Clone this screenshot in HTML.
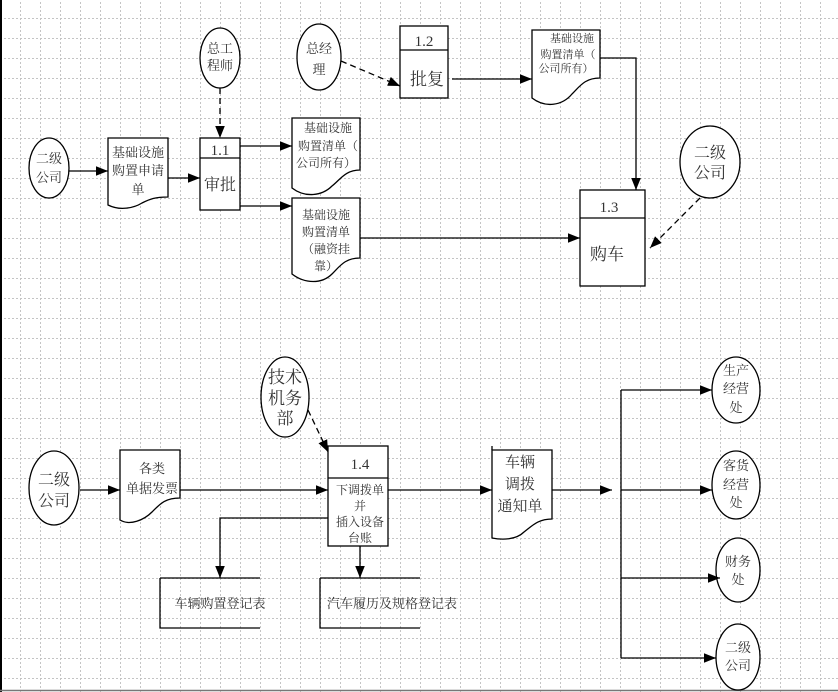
<!DOCTYPE html>
<html><head><meta charset="utf-8"><style>
html,body{margin:0;padding:0;background:#fff;}
svg{display:block;font-family:"Liberation Serif","Noto Serif CJK SC","Noto Sans CJK SC",serif;}
text{fill:#333;}
</style></head><body>
<svg width="838" height="692" viewBox="0 0 838 692" xmlns="http://www.w3.org/2000/svg">
<defs>
<pattern id="g" width="20" height="20" patternUnits="userSpaceOnUse" x="0" y="18">
<path d="M0 0.5H20M0.5 0V20" stroke="#c4c4c4" stroke-width="1" stroke-dasharray="2,2" fill="none"/>
</pattern>
<marker id="b" viewBox="0 0 10 10" refX="10" refY="5" markerWidth="12" markerHeight="12" markerUnits="userSpaceOnUse" orient="auto"><path d="M0 1L10 5L0 9z" fill="#000"/></marker>
</defs>
<rect width="838" height="692" fill="url(#g)"/>
<line x1="1" y1="0" x2="1" y2="692" stroke="#000" stroke-width="2"/>
<line x1="0" y1="690.5" x2="838" y2="690.5" stroke="#777" stroke-width="1.5"/>

<g stroke="#000" stroke-width="1.3" fill="#fff">
<ellipse cx="49" cy="168" rx="20" ry="30"/>
<ellipse cx="220" cy="58" rx="20" ry="30"/>
<ellipse cx="319" cy="57" rx="22" ry="33"/>
<ellipse cx="710" cy="162" rx="30" ry="36"/>
<path d="M108 138H168V197C155 197 150 199 142 203C134 208 120 211 108 205Z"/>
<rect x="200" y="138" width="40" height="72"/>
<line x1="200" y1="158" x2="240" y2="158"/>
<path d="M292 118H360V170C345 170 340 180 332 186C322 196 305 198 292 188Z"/>
<path d="M292 198H360V258C345 258 340 266 332 274C322 284 305 284 292 274Z"/>
<rect x="400" y="26" width="48" height="72"/>
<line x1="400" y1="50" x2="448" y2="50"/>
<path d="M532 30H600V78C585 78 580 86 572 94C562 106 545 108 532 98Z"/>
<rect x="580" y="190" width="65" height="96"/>
<line x1="580" y1="218" x2="645" y2="218"/>
<ellipse cx="285" cy="397" rx="24" ry="40"/>
<ellipse cx="54" cy="488" rx="25" ry="37"/>
<path d="M120 450H180V498C165 498 160 504 152 512C144 520 130 526 120 520Z"/>
<rect x="328" y="446" width="60" height="100"/>
<line x1="328" y1="478" x2="388" y2="478"/>
<path d="M492 450H552V519C538 519 532 526 524 532C516 540 502 540 492 538Z"/>
<line x1="492" y1="446" x2="492" y2="450"/>
<ellipse cx="736" cy="390" rx="24" ry="33"/>
<ellipse cx="736" cy="485" rx="24" ry="34"/>
<ellipse cx="738" cy="570" rx="22" ry="32"/>
<ellipse cx="738" cy="657" rx="22" ry="33"/>
</g>
<g stroke="#000" stroke-width="1.3" fill="none">
<path d="M160 578H260M160 578V628H260"/>
<path d="M320 578H420M320 578V628H420"/>
</g>

<g stroke="#000" stroke-width="1.3" fill="none" marker-end="url(#b)">
<line x1="69" y1="171" x2="108" y2="171"/>
<line x1="168" y1="178" x2="200" y2="178"/>
<line x1="240" y1="146" x2="292" y2="146"/>
<line x1="240" y1="206" x2="292" y2="206"/>
<line x1="360" y1="238" x2="580" y2="238"/>
<line x1="452" y1="79" x2="532" y2="79"/>
<path d="M600 58H636V190"/>
<line x1="80" y1="490" x2="120" y2="490"/>
<line x1="180" y1="490" x2="328" y2="490"/>
<line x1="388" y1="490" x2="492" y2="490"/>
<line x1="552" y1="490" x2="612" y2="490"/>
<path d="M328 518H220V578"/>
<line x1="360" y1="546" x2="360" y2="578"/>
<path d="M621 390H712"/>
<path d="M621 490H712"/>
<path d="M621 578H720"/>
<path d="M621 658H716"/>
</g>
<line x1="621" y1="390" x2="621" y2="658" stroke="#000" stroke-width="1.3"/>
<g stroke="#000" stroke-width="1.3" fill="none" stroke-dasharray="6,4" marker-end="url(#b)">
<line x1="220" y1="88" x2="220" y2="138"/>
<line x1="341" y1="61" x2="400" y2="86"/>
<line x1="700" y1="198" x2="650" y2="248"/>
<line x1="308" y1="410" x2="328" y2="452"/>
</g>

<g font-size="13" text-anchor="middle">
<text x="49" y="163">二级</text><text x="49" y="182">公司</text>
<text x="220" y="53">总工</text><text x="220" y="70">程师</text>
<text x="319" y="53">总经</text><text x="319" y="74">理</text>
<text x="138" y="157">基础设施</text><text x="138" y="175">购置申请</text><text x="138" y="194">单</text>
<text x="220" y="155" font-size="15">1.1</text>
<text x="220" y="190" font-size="16">审批</text>
<text x="328" y="132" font-size="12">基础设施</text><text x="328" y="150" font-size="12">购置清单（</text><text x="326" y="167" font-size="12">公司所有）</text>
<text x="326" y="219" font-size="12">基础设施</text><text x="326" y="236" font-size="12">购置清单</text><text x="326" y="253" font-size="12">（融资挂</text><text x="326" y="270" font-size="12">靠）</text>
<text x="424" y="46" font-size="15">1.2</text>
<text x="427" y="85" font-size="17">批复</text>
<text x="572" y="42" font-size="11">基础设施</text><text x="568" y="58" font-size="11">购置清单（</text><text x="566" y="72" font-size="11">公司所有）</text>
<text x="609" y="212" font-size="15">1.3</text>
<text x="607" y="260" font-size="17">购车</text>
<text x="710" y="158" font-size="16">二级</text><text x="710" y="178" font-size="16">公司</text>
<text x="285" y="383" font-size="17">技术</text><text x="285" y="404" font-size="17">机务</text><text x="285" y="424" font-size="17">部</text>
<text x="54" y="485" font-size="16">二级</text><text x="54" y="506" font-size="16">公司</text>
<text x="152" y="473">各类</text><text x="152" y="493">单据发票</text>
<text x="360" y="469" font-size="15">1.4</text>
<text x="360" y="494" font-size="12">下调拨单</text><text x="360" y="510" font-size="12">并</text><text x="360" y="526" font-size="12">插入设备</text><text x="360" y="542" font-size="12">台账</text>
<text x="520" y="467" font-size="15">车辆</text><text x="520" y="489" font-size="15">调拨</text><text x="520" y="511" font-size="15">通知单</text>
<text x="220" y="608">车辆购置登记表</text>
<text x="392" y="608">汽车履历及规格登记表</text>
<text x="736" y="375">生产</text><text x="736" y="393">经营</text><text x="736" y="412">处</text>
<text x="736" y="470">客货</text><text x="736" y="489">经营</text><text x="736" y="507">处</text>
<text x="738" y="566">财务</text><text x="738" y="584">处</text>
<text x="738" y="652">二级</text><text x="738" y="670">公司</text>
</g>
</svg>
</body></html>
